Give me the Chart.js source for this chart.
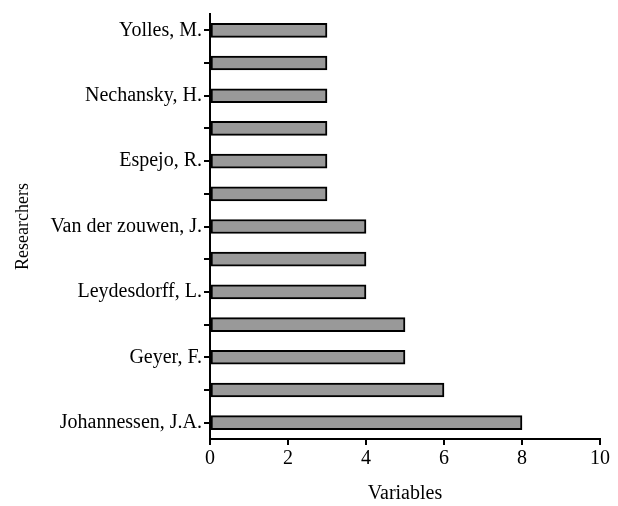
<!DOCTYPE html>
<html>
<head>
<meta charset="utf-8">
<script src="https://cdn.jsdelivr.net/npm/chart.js@4/dist/chart.umd.min.js"></script>
<style>
  html, body { margin: 0; padding: 0; background: #fff; }
  #wrap { width: 618px; height: 506px; }
</style>
</head>
<body>
<div id="wrap"><canvas id="c" width="618" height="506"></canvas></div>
<script>
const researchers = ['Yolles, M.', '', 'Nechansky, H.', '', 'Espejo, R.', '', 'Van der zouwen, J.', '', 'Leydesdorff, L.', '', 'Geyer, F.', '', 'Johannessen, J.A.'];
const variables = [3, 3, 3, 3, 3, 3, 4, 4, 4, 5, 5, 6, 8];
const xTitle = 'Variables';
const yTitle = 'Researchers';

const fam = "'Liberation Serif', 'Times New Roman', serif";
const font = { family: fam, size: 20 };

new Chart(document.getElementById('c'), {
  type: 'bar',
  data: {
    labels: researchers,
    datasets: [{
      data: variables,
      backgroundColor: '#999999',
      borderColor: '#000000',
      borderWidth: 2,
      borderSkipped: false,
      barThickness: 14
    }]
  },
  options: {
    indexAxis: 'y',
    responsive: false,
    animation: false,
    layout: { padding: { top: 5, right: 18, left: 0, bottom: 0 } },
    plugins: { legend: { display: false }, tooltip: { enabled: false } },
    scales: {
      x: {
        min: 0, max: 10,
        ticks: { stepSize: 2, color: '#000', font: font, padding: 2 },
        grid: { drawOnChartArea: false, drawTicks: true, tickLength: 6, color: '#000', lineWidth: 2 },
        border: { display: true, color: '#000', width: 2 },
        title: { display: true, text: xTitle, color: '#000', font: font, padding: { top: 6, bottom: 0 } },
        afterFit: (s) => { s.height = 67; }
      },
      y: {
        ticks: { autoSkip: false, color: '#000', font: font, padding: 2 },
        grid: { offset: false, drawOnChartArea: false, drawTicks: true, tickLength: 6, color: '#000', lineWidth: 2 },
        border: { display: true, color: '#000', width: 2 },
        title: { display: true, text: yTitle, color: '#000', font: { family: fam, size: 18 }, padding: { top: 12, bottom: 10 } },
        afterFit: (s) => { s.width = 210; }
      }
    }
  }
});
</script>
</body>
</html>
